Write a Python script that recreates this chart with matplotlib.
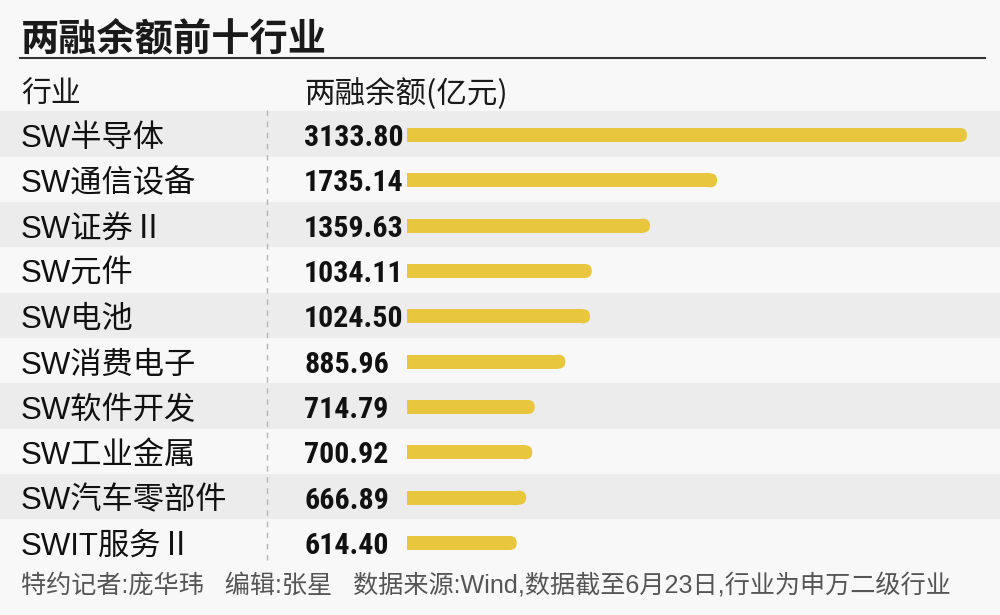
import matplotlib
matplotlib.use("Agg")
import matplotlib.pyplot as plt
import matplotlib.transforms as mtransforms
from matplotlib.patches import FancyBboxPatch
import numpy as np

plt.rcParams['font.family'] = ['Noto Sans CJK SC', 'DejaVu Sans']

title = "两融余额前十行业"
col_header_left = "行业"
col_header_right = "两融余额(亿元)"
industries = ["SW半导体", "SW通信设备", "SW证券Ⅱ", "SW元件", "SW电池",
              "SW消费电子", "SW软件开发", "SW工业金属", "SW汽车零部件", "SWIT服务Ⅱ"]
values = [3133.80, 1735.14, 1359.63, 1034.11, 1024.50,
          885.96, 714.79, 700.92, 666.89, 614.40]
footer = "特约记者:庞华玮   编辑:张星   数据来源:Wind,数据截至6月23日,行业为申万二级行业"

W, H = 1000, 615
fig = plt.figure(figsize=(W / 100, H / 100), dpi=100)
bg = '#f8f8f8'
fig.patch.set_facecolor(bg)
ax = fig.add_axes([0, 0, 1, 1])
ax.set_facecolor(bg)
ax.axis('off')

# scales: bar origin at px 407, max bar end at px 967
x0_px = 407
s = (967 - x0_px) / max(values)           # px per value unit
row0_px, row_step = 135, 45.33
ax.set_xlim(-x0_px / s, (W - x0_px) / s)
ax.set_ylim((H - row0_px) / row_step, -row0_px / row_step)

def py(px):
    return (px - row0_px) / row_step

fx = mtransforms.blended_transform_factory(fig.transFigure, ax.transData)

n = len(values)
ypos = np.arange(n)

# row bands
for i in ypos:
    if i % 2 == 0:
        ax.axhspan(i - 0.52, i + 0.48, color='#ececec', zorder=0, lw=0)

# title + rule
ax.text(21 / W, py(40), title, transform=fx, fontsize=27.5, fontweight='bold',
        color='#1a1a1a', va='center', ha='left')
ax.plot([20 / W, 985 / W], [py(57.5), py(57.5)], transform=fx, color='#333333', lw=1.5)

# column headers
ax.text(21 / W, py(94), col_header_left, transform=fx, fontsize=21.5,
        fontweight='medium', color='#1a1a1a', va='center', ha='left')
ax.text(304 / W, py(94), col_header_right, transform=fx, fontsize=22,
        fontweight='medium', color='#1a1a1a', va='center', ha='left')

# dashed divider
ax.plot([267 / W, 267 / W], [py(110), py(565)], transform=fx, color='#b5b5b5',
        lw=1, ls=(0, (4, 4)))

# bars with rounded right end
bar_color = '#e8c63e'
bh = 14 / row_step
r = 7 / s
aspect = (1 / row_step) / (1 / s)
vals = np.array(values)
ax.barh(ypos, vals - r, height=bh, left=0, color=bar_color, zorder=2, lw=0)
for yy, v in zip(ypos, vals):
    p = FancyBboxPatch((v - 2 * r, yy - bh / 2), 2 * r, bh,
                       boxstyle=f"round,pad=0,rounding_size={r}",
                       mutation_aspect=aspect, fc=bar_color, ec='none', zorder=2)
    ax.add_patch(p)

# labels and values
num_family = ['Liberation Sans Narrow', 'Roboto Condensed', 'DejaVu Sans Condensed', 'Liberation Sans']
lab_dy = 4 / row_step
num_dy = 3 / row_step
for yy, name, v in zip(ypos, industries, values):
    ax.text(21 / W, yy + lab_dy, name, transform=fx, fontsize=22.5, color='#111111',
            va='center', ha='left', family=['Liberation Sans', 'Noto Sans CJK SC', 'DejaVu Sans'])
    ax.text(304 / W, yy + num_dy, f"{v:.2f}", transform=fx, fontsize=21.5, fontweight='bold',
            color='#111111', va='center', ha='left', family=num_family)

# footer
ax.text(21 / W, py(586), footer, transform=fx, fontsize=18.1, color='#555555',
        va='center', ha='left', family=['Liberation Sans', 'Noto Sans CJK SC', 'DejaVu Sans'])

fig.savefig('out.png', dpi=100, facecolor=bg)
